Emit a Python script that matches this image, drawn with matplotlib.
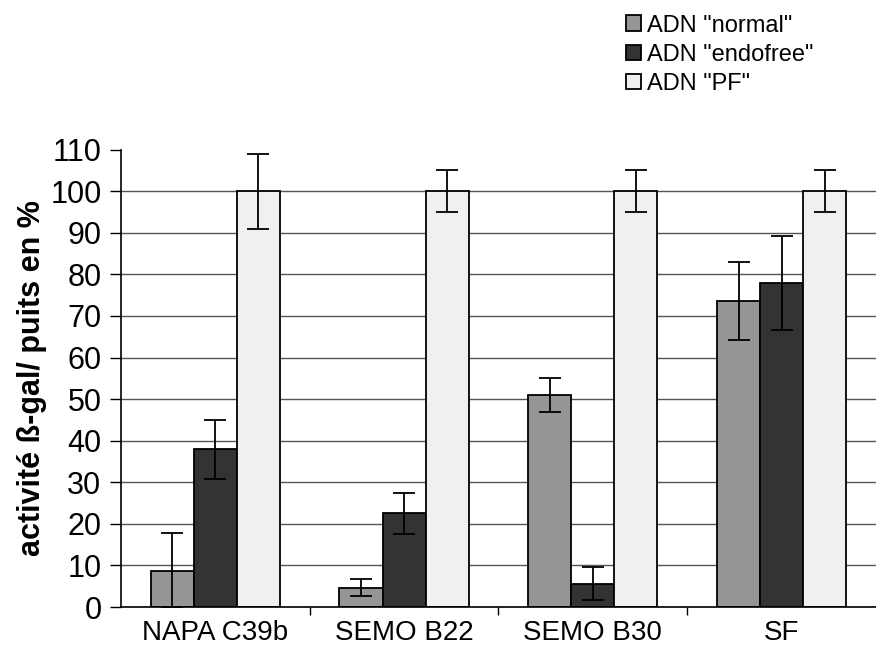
import matplotlib

matplotlib.use("Agg")
import matplotlib.pyplot as plt
import numpy as np

plt.rcParams["font.family"] = ["Liberation Sans", "DejaVu Sans"]

categories = ["NAPA C39b", "SEMO B22", "SEMO B30", "SF"]
series = ['ADN "normal"', 'ADN "endofree"', 'ADN "PF"']
normal = [8.7, 4.7, 51.0, 73.6]
normal_err = [9.0, 2.0, 4.0, 9.3]
endofree = [37.9, 22.5, 5.6, 78.0]
endofree_err = [7.0, 5.0, 4.0, 11.3]
pf = [100, 100, 100, 100]
pf_err = [9.0, 5.0, 5.0, 5.0]
colors = ["#959595", "#333333", "#f0f0f0"]
yticks = list(range(0, 111, 10))

fig = plt.figure(figsize=(8.76, 6.62), dpi=100)
ax = fig.add_axes([0.138, 0.083, 0.862, 0.691])

x = np.arange(len(categories))
w = 0.228
for i, (vals, errs) in enumerate([(normal, normal_err), (endofree, endofree_err), (pf, pf_err)]):
    ax.bar(x + (i - 1) * w, vals, w, color=colors[i], edgecolor="black",
           linewidth=1.3, label=series[i], zorder=2)
    ax.errorbar(x + (i - 1) * w, vals, yerr=errs, fmt="none", ecolor="black",
                elinewidth=1.3, capsize=8, capthick=1.3, zorder=3)

ax.set_xlim(-0.5, len(categories) - 0.5)
ax.set_ylim(0, 110)
ax.set_yticks(yticks)
ax.set_yticklabels([str(t) for t in yticks], fontsize=22)
ax.yaxis.grid(True, color="#555555", linewidth=1.0, zorder=0)
ax.get_ygridlines()[-1].set_visible(False)  # no line at 110
ax.set_axisbelow(True)
ax.tick_params(axis="y", direction="out", length=8, width=1, pad=6)

ax.set_xticks(x)
ax.set_xticklabels(categories, fontsize=20)
ax.tick_params(axis="x", which="major", length=0, pad=9)
ax.set_xticks(x[:-1] + 0.5, minor=True)
ax.tick_params(axis="x", which="minor", direction="out", length=6, width=1)

for s in ("top", "right"):
    ax.spines[s].set_visible(False)
ax.spines["left"].set_linewidth(1.2)
ax.spines["bottom"].set_linewidth(1.2)

ax.set_ylabel("activité ß-gal/ puits en %", fontsize=22, fontweight="bold")
ax.yaxis.set_label_coords(-0.098, 0.5)

fig.legend(loc="upper left", bbox_to_anchor=(0.69, 1.01), frameon=False,
           fontsize=17, handlelength=0.65, handleheight=0.65, handletextpad=0.25,
           labelspacing=0.3)

fig.savefig("out.png", dpi=100)
